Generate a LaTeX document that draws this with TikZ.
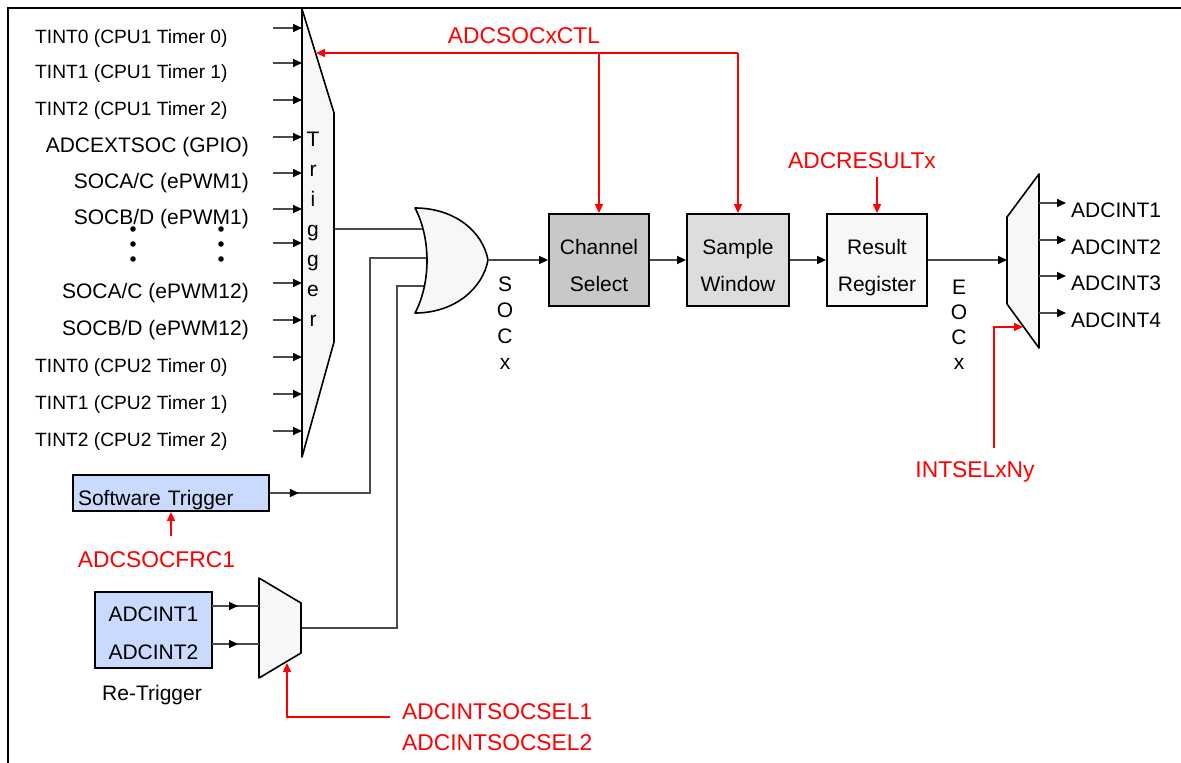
\documentclass[tikz,border=0pt]{standalone}
\usepackage{fontspec}
\setmainfont{Liberation Sans}
\usetikzlibrary{arrows.meta, calc}
\definecolor{boxblue}{RGB}{201,218,254}
\definecolor{selgray}{RGB}{200,200,200}
\definecolor{wingray}{RGB}{221,221,221}
\definecolor{muxfill}{RGB}{247,247,247}
\definecolor{wiregray}{RGB}{75,75,75}
\newcommand{\bxtop}[1]{\rule{0pt}{#1}}
\newcommand{\bxbot}{\rule[-5pt]{0pt}{5pt}}

\begin{document}
\begin{tikzpicture}[x=1pt, y=-1pt,
  wire/.style={draw=wiregray, line width=1.6pt},
  arr/.style={wire, -{Triangle[length=9pt, width=8pt, color=black]}},
  redarr/.style={draw=red, line width=1.5pt, -{Triangle[length=9pt, width=8pt]}},
  blk/.style={inner sep=0pt, font=\fontsize{21}{25}\selectfont},
  sml/.style={inner sep=0pt, font=\fontsize{19.2}{23}\selectfont},
  redtxt/.style={inner sep=0pt, text=red, font=\fontsize{22.8}{27}\selectfont},
  blockbox/.style={draw=black, line width=1.8pt, inner sep=0pt, align=center, font=\fontsize{21}{37}\selectfont, minimum width=100pt, minimum height=92pt},
  bluebox/.style={draw=black, line width=1.8pt, fill=boxblue, inner ysep=0pt, font=\fontsize{21}{38}\selectfont},
  mux/.style={draw=black, line width=1.6pt, fill=muxfill, line join=round}
]
\path[use as bounding box] (0,0) rectangle (1181,763);
\draw[line width=2.6pt] (8,763) -- (8,8) -- (1181,8);

\foreach \yy/\txt [count=\i] in {28/{TINT0 (CPU1 Timer 0)}, 63/{TINT1 (CPU1 Timer 1)}, 100/{TINT2 (CPU1 Timer 2)}, 357/{TINT0 (CPU2 Timer 0)}, 394/{TINT1 (CPU2 Timer 1)}, 431/{TINT2 (CPU2 Timer 2)}}
  \node[sml, anchor=base west] (tint\i) at (35,\yy+15) {\txt};
\foreach \yy/\txt [count=\i] in {137/{ADCEXTSOC (GPIO)}, 173/{SOCA/C (ePWM1)}, 209/{SOCB/D (ePWM1)}, 283/{SOCA/C (ePWM12)}, 320/{SOCB/D (ePWM12)}}
  \node[blk, anchor=base east] (soc\i) at (249,\yy+15.5) {\txt};
\foreach \xx in {133,221}
  \foreach \yy in {229,244,259}
    \fill (\xx,\yy) circle (2.8pt);

\coordinate (ora) at (428,229);
\coordinate (orb) at (430,258);
\coordinate (orc) at (428,286);
\draw[wire] (334,229) -- (ora);

\node[bluebox, minimum width=196pt, minimum height=36pt, text width=186pt, inner xsep=5pt, align=left, text height=25pt, text depth=0pt] (swtrig) at (171,493) {Software Trigger};
\node[bluebox, minimum width=117pt, minimum height=76pt, align=center] (retrig) at (153.5,630) {\bxtop{21pt}ADCINT1\\ADCINT2};
\node[blk, anchor=base] (retriglbl) at (152,700.5) {Re-Trigger};

\coordinate (swup) at (370,258);
\draw[wire] (swtrig.east) -| (swup) -- (orb);
\draw[arr] (swtrig.east) -- ++(29,0);
\coordinate (rmout) at (301,628);
\coordinate (rmup) at (397,286);
\draw[wire] (rmout) -| (rmup) -- (orc);

\draw[mux] (302,9) -- (334,113) -- (334,342) -- (302,457) -- cycle;
\foreach \ch [count=\i from 0] in {T,r,i,g,g,e,r}
  \node[blk, anchor=base] (trg\i) at (313,146+30*\i) {\ch};
\foreach \yy [count=\i] in {28,63,100,137,173,209,243,283,320,357,394,431} {
  \coordinate (trin\i) at (273,\yy);
  \coordinate (trmux\i) at (302,\yy);
  \draw[arr] (trin\i) -- (trmux\i);
}

\draw[mux] (415,208) .. controls (455,208) and (483,232) .. (488,260) .. controls (483,288) and (455,313) .. (415,313) .. controls (431,283) and (431,238) .. cycle;
\coordinate (orout) at (488,260);
\foreach \ch [count=\i from 0] in {S,O,C,x}
  \node[blk, anchor=base] (socx\i) at (505,291+26*\i) {\ch};

\draw[mux] (259,578) -- (301,603) -- (301,653) -- (259,678) -- cycle;
\foreach \yy [count=\i] in {606,644} {
  \coordinate (rtin\i) at (212,\yy);
  \coordinate (rtmux\i) at (259,\yy);
  \draw[wire] (rtin\i) -- (rtmux\i);
  \draw[arr] (rtin\i) -- ++(26,0);
}

\node[blockbox, fill=selgray] (chsel) at (599,260) {\bxtop{31pt}Channel\\Select\bxbot};
\node[blockbox, fill=wingray, minimum width=102pt] (smpw) at (738,260) {\bxtop{31pt}Sample\\Window\bxbot};
\node[blockbox, fill=muxfill] (resreg) at (877,260) {\bxtop{31pt}Result\\Register\bxbot};
\draw[arr] (orout) -- (chsel.west);
\draw[arr] (chsel.east) -- (smpw.west);
\draw[arr] (smpw.east) -- (resreg.west);

\draw[mux] (1007,217) -- (1039,174) -- (1039,348) -- (1007,304) -- cycle;
\coordinate (omux) at (1007,260);
\draw[arr] (resreg.east) -- (omux);
\foreach \ch [count=\i from 0] in {E,O,C,x}
  \node[blk, anchor=base] (eocx\i) at (959,294.5+25*\i) {\ch};
\foreach \yy [count=\i] in {203,240,276,313} {
  \coordinate (omout\i) at (1039,\yy);
  \node[blk, anchor=base west] (adcint\i) at (1071,\yy+14.5) {ADCINT\i};
  \draw[arr] (omout\i) -- (1066,\yy);
}

\node[redtxt, anchor=base] (socctl) at (524,43) {ADCSOCxCTL};
\node[redtxt, anchor=base] (result) at (862,168) {ADCRESULTx};
\node[redtxt, anchor=base] (socfrc) at (156.5,567) {ADCSOCFRC1};
\node[redtxt, anchor=base west] (intsocsel1) at (402,719) {ADCINTSOCSEL1};
\node[redtxt, anchor=base west] (intsocsel2) at (402,750) {ADCINTSOCSEL2};
\node[redtxt, anchor=base] (intsel) at (975,477) {INTSELxNy};

\coordinate (ctlbus) at (738,53);
\coordinate (ctltap) at (599,53);
\coordinate (trslant) at (316,53);
\draw[redarr] (ctlbus) -- (trslant);
\draw[redarr] (ctltap) -- (chsel.north);
\draw[redarr] (ctlbus) -- (smpw.north);
\draw[redarr] (877,177) -- (resreg.north);
\draw[redarr] (171,536) -- (swtrig.south);
\coordinate (selend) at (390,717);
\coordinate (rmsel) at (287,663);
\draw[redarr] (selend) -| (rmsel);
\coordinate (intselstart) at (994,448);
\coordinate (omsel) at (1023,327);
\draw[redarr] (intselstart) |- (omsel);
\end{tikzpicture}
\end{document}
